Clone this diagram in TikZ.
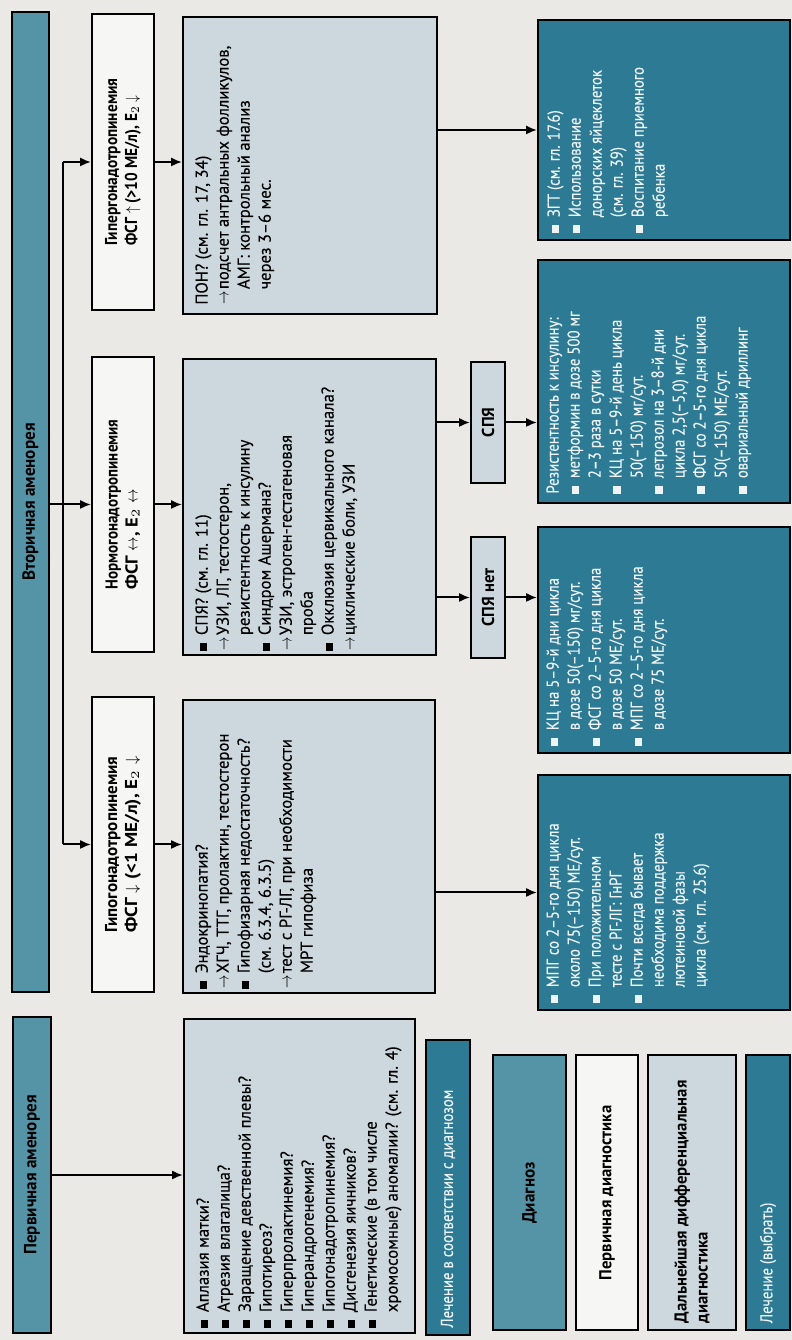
\documentclass[tikz,border=0pt]{standalone}
\usepackage{fontspec}
\usepackage{graphicx}
\setmainfont{PT Sans}[FakeStretch=0.97, UprightFeatures={FakeBold=0.25}]
\newfontfamily\narrowfont{PT Sans}[FakeStretch=0.86, UprightFeatures={FakeBold=0.2}]
\usetikzlibrary{arrows.meta}
\definecolor{pagebg}{RGB}{234,233,229}
\definecolor{barteal}{RGB}{84,148,166}
\definecolor{txteal}{RGB}{44,122,148}
\definecolor{diagblue}{RGB}{204,216,222}
\definecolor{boxwhite}{RGB}{246,246,244}
\definecolor{txtwhite}{RGB}{238,244,246}
% list markers and narrow arrows
\newcommand{\sqmark}{\rule[0.1ex]{0.42em}{0.42em}}
\newcommand{\mk}[1]{\makebox[0.9em][l]{#1}}
\newcommand{\bl}{\mk{\sqmark}}
\newcommand{\rarr}{\scalebox{0.72}[1]{$\rightarrow$}}
\newcommand{\arw}{\mk{\rarr}}
\newcommand{\ind}{\hspace*{0.9em}}
\newcommand{\upa}{\scalebox{0.8}[0.9]{$\uparrow$}}
\newcommand{\dna}{\scalebox{0.8}[0.9]{$\downarrow$}}
\newcommand{\lra}{\scalebox{0.7}[1]{$\leftrightarrow$}}
% a heading line set to a given width
\newcommand{\fitw}[2]{\resizebox{#1}{\height}{#2}}
\begin{document}
\begin{tikzpicture}[
  font=\fontsize{8.6}{10.5}\selectfont,
  frame/.style={draw=black, line width=1pt, inner sep=0pt},
  hdrbox/.style={frame, fill=boxwhite, font=\fontsize{8.6}{10}\selectfont\bfseries, align=left},
  barbox/.style={frame, fill=barteal, font=\fontsize{8.8}{10.5}\selectfont\bfseries},
  diagbox/.style={frame, fill=diagblue},
  txbox/.style={frame, fill=txteal},
  listtxt/.style={inner sep=0pt, align=left, anchor=north west},
  txtxt/.style={listtxt, text=txtwhite, font=\narrowfont\fontsize{8.6}{10.5}\selectfont},
  arr/.style={line width=1pt, -{Latex[length=5.5pt,width=4.6pt]}},
  link/.style={line width=1pt}
]
\begin{scope}[rotate=90, transform shape, x=0.5pt, y=-0.5pt]
\useasboundingbox (0,0) rectangle (1340,792);
\fill[pagebg] (0,0) rectangle (1340,792);

% top bars
\node[barbox, minimum width=158pt, minimum height=19pt] (prim) at (165,32) {Первичная аменорея};
\node[barbox, minimum width=490pt, minimum height=18.5pt] (sec) at (838,30.5) {Вторичная аменорея};

% hormone level boxes
\node[hdrbox, minimum width=147.5pt, minimum height=31pt] (hypo) at (495.5,123)
  {\fitw{88pt}{Гипогонадотропинемия}\\\fitw{88pt}{ФСГ \dna{} (<1 МЕ/л), E$_2$ \dna}};
\node[hdrbox, minimum width=147.5pt, minimum height=31pt] (normo) at (835.5,123)
  {\fitw{85pt}{Нормогонадотропинемия}\\\fitw{50pt}{ФСГ \lra, E$_2$ \lra}};
\node[hdrbox, minimum width=148pt, minimum height=31pt] (hyper) at (1178,123)
  {\fitw{83.5pt}{Гипергонадотропинемия}\\\fitw{75pt}{ФСГ \upa{} (>10 МЕ/л), E$_2$ \dna}};

% diagnostic boxes
\node[diagbox, minimum width=157pt, minimum height=115.5pt] (plist) at (164,299.5) {};
\node[listtxt] (plist-t) at ([shift={(6,13)}]plist.north west)
  {\bl Аплазия матки?\\
   \bl Атрезия влагалища?\\
   \bl Заращение девственной плевы?\\
   \bl Гипотиреоз?\\
   \bl Гиперпролактинемия?\\
   \bl Гиперандрогенемия?\\
   \bl Гипогонадотропинемия?\\
   \bl Дисгенезия яичников?\\
   \bl Генетические (в том числе\\
   \ind хромосомные) аномалии? (см. гл. 4)};

\node[diagbox, minimum width=146.5pt, minimum height=126pt] (endo) at (493.5,309) {};
\node[listtxt] (endo-t) at ([shift={(5,13)}]endo.north west)
  {\bl Эндокринопатия?\\
   \arw ХГЧ, ТТГ, пролактин, тестостерон\\
   \bl Гипофизарная недостаточность?\\
   \ind (см. 6.3.4, 6.3.5)\\
   \arw тест с РГ-ЛГ, при необходимости\\
   \ind МРТ гипофиза};

\node[diagbox, minimum width=148pt, minimum height=126.5pt] (pcos) at (833,309.5) {};
\node[listtxt] (pcos-t) at ([shift={(5,13)}]pcos.north west)
  {\bl СПЯ? (см. гл. 11)\\
   \arw УЗИ, ЛГ, тестостерон,\\
   \ind резистентность к инсулину\\
   \bl Синдром Ашермана?\\
   \arw УЗИ, эстроген-гестагеновая\\
   \ind проба\\
   \bl Окклюзия цервикального канала?\\
   \arw циклические боли, УЗИ};

\node[diagbox, minimum width=148.5pt, minimum height=127pt] (pon) at (1174.5,310) {};
\node[listtxt] (pon-t) at ([shift={(10,13)}]pon.north west)
  {ПОН? (см. гл. 17, 34)\\
   \arw подсчет антральных фолликулов,\\
   \ind АМГ: контрольный анализ\\
   \ind через 3–6 мес.};

% PCOS split
\node[diagbox, font=\fontsize{8.6}{10}\selectfont\bfseries, minimum width=60.5pt, minimum height=17pt] (nopcos) at (742.5,488) {СПЯ нет};
\node[diagbox, font=\fontsize{8.6}{10}\selectfont\bfseries, minimum width=60.5pt, minimum height=17pt] (yespcos) at (917.5,488) {СПЯ};

% treatment boxes
\node[txbox, minimum width=117.5pt, minimum height=126pt] (txhypo) at (447.5,664) {};
\node[txtxt] (txhypo-t) at ([shift={(8,9)}]txhypo.north west)
  {\bl МПГ со 2–5-го дня цикла\\
   \ind около 75(–150) МЕ/сут.\\
   \bl При положительном\\
   \ind тесте с РГ-ЛГ: ГнРГ\\
   \bl Почти всегда бывает\\
   \ind необходима поддержка\\
   \ind лютеиновой фазы\\
   \ind цикла (см. гл. 25.6)};

\node[txbox, minimum width=113pt, minimum height=126pt] (txnopcos) at (700,664) {};
\node[txtxt] (txnopcos-t) at ([shift={(8,9)}]txnopcos.north west)
  {\bl КЦ на 5–9-й дни цикла\\
   \ind в дозе 50(–150) мг/сут.\\
   \bl ФСГ со 2–5-го дня цикла\\
   \ind в дозе 50 МЕ/сут.\\
   \bl МПГ со 2–5-го дня цикла\\
   \ind в дозе 75 МЕ/сут.};

\node[txbox, minimum width=121.5pt, minimum height=126pt] (txpcos) at (958.5,664) {};
\node[txtxt] (txpcos-t) at ([shift={(10,9)}]txpcos.north west)
  {Резистентность к инсулину:\\
   \bl метформин в дозе 500 мг\\
   \ind 2–3 раза в сутки\\
   \bl КЦ на 5–9-й день цикла\\
   \ind 50(–150) мг/сут.\\
   \bl летрозол на 3–8-й дни\\
   \ind цикла 2,5(–5,0) мг/сут.\\
   \bl ФСГ со 2–5-го дня цикла\\
   \ind 50(–150) МЕ/сут.\\
   \bl овариальный дриллинг};

\node[txbox, minimum width=110pt, minimum height=126pt] (txhyper) at (1210,664) {};
\node[txtxt] (txhyper-t) at ([shift={(8,10)}]txhyper.north west)
  {\bl ЗГТ (см. гл. 17.6)\\
   \bl Использование\\
   \ind донорских яйцеклеток\\
   \ind (см. гл. 39)\\
   \bl Воспитание приемного\\
   \ind ребенка};

% legend
\node[txbox, minimum width=147.5pt, minimum height=22pt] (lg-txdx) at (152.5,448) {};
\node[txtxt, anchor=west] (lg-txdx-t) at ([shift={(8,0)}]lg-txdx.west) {Лечение в соответствии с диагнозом};
\node[barbox, minimum width=137.5pt, minimum height=36.5pt] (lg-dx) at (147,529.5) {Диагноз};
\node[frame, fill=boxwhite, font=\fontsize{8.6}{10.5}\selectfont\bfseries, minimum width=137.5pt, minimum height=31pt] (lg-prim) at (147,607) {Первичная диагностика};
\node[diagbox, minimum width=137.5pt, minimum height=44pt] (lg-diff) at (147,692) {};
\node[listtxt, anchor=west, font=\fontsize{8.6}{10.5}\selectfont\bfseries] (lg-diff-t) at ([shift={(8,0)}]lg-diff.west)
  {Дальнейшая дифференциальная\\диагностика};
\node[txbox, minimum width=137.5pt, minimum height=22pt] (lg-choose) at (147,768) {};
\node[txtxt, anchor=west] (lg-choose-t) at ([shift={(8,0)}]lg-choose.west) {Лечение (выбрать)};

% connectors: amenorrhea bars to next level
\draw[arr] (prim.south) -- (prim.south |- plist.north);
\coordinate (split-l) at (495.5,63);
\coordinate (split-r) at (1178,63);
\draw[link] (split-l) -- (split-r);
\draw[arr] (split-l) -- (hypo.north);
\draw[arr] (split-r) -- (hyper.north);
\draw[arr] (normo.north |- sec.south) -- (normo.north);

% hormone boxes to diagnostics
\draw[arr] (hypo.south) -- (hypo.south |- endo.north);
\draw[arr] (normo.south) -- (normo.south |- pcos.north);
\draw[arr] (hyper.south) -- (hyper.south |- pon.north);

% diagnostics to treatment
\draw[arr] (txhypo.north |- endo.south) -- (txhypo.north);
\draw[arr] (nopcos.north |- pcos.south) -- (nopcos.north);
\draw[arr] (yespcos.north |- pcos.south) -- (yespcos.north);
\draw[arr] (nopcos.south) -- (nopcos.south |- txnopcos.north);
\draw[arr] (yespcos.south) -- (yespcos.south |- txpcos.north);
\draw[arr] (txhyper.north |- pon.south) -- (txhyper.north);
\end{scope}
\end{tikzpicture}
\end{document}
